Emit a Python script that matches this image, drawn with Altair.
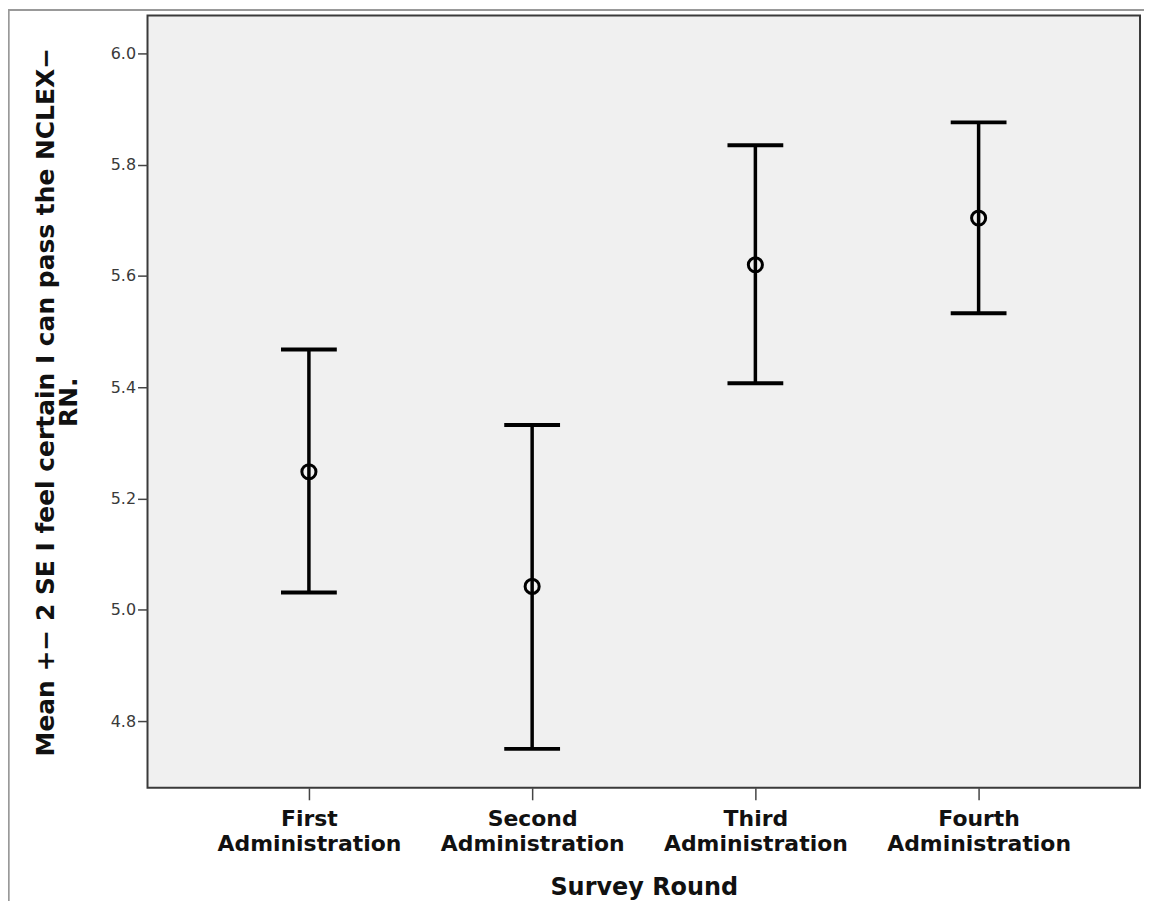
import altair as alt
import pandas as pd

rounds = ["First Administration", "Second Administration", "Third Administration", "Fourth Administration"]
means = [5.248, 5.042, 5.620, 5.704]
lower = [5.031, 4.750, 5.407, 5.533]
upper = [5.468, 5.332, 5.835, 5.876]
y_ticks = [4.8, 5.0, 5.2, 5.4, 5.6, 5.8, 6.0]

df = pd.DataFrame({"round": rounds, "mean": means, "lower": lower, "upper": upper})

FONT = "DejaVu Sans"

x_enc = alt.X(
    "round:N",
    sort=rounds,
    scale=alt.Scale(type="point", padding=0.723),
    axis=alt.Axis(
        title="Survey Round",
        labelExpr="split(datum.label, ' ')",
        labelAngle=0,
        labelLimit=400,
        labelFont=FONT,
        labelFontSize=22,
        labelFontWeight="bold",
        labelLineHeight=25,
        labelColor="#111111",
        labelPadding=9,
        titleFont=FONT,
        titleFontSize=24,
        titleFontWeight="bold",
        titleColor="#111111",
        titlePadding=21,
        tickSize=12,
        tickColor="#444444",
        tickWidth=1.5,
        domain=False,
        grid=False,
    ),
)

y_scale = alt.Scale(domain=[4.68, 6.068], nice=False, zero=False)

base = alt.Chart(df)

bars = base.mark_rule(color="black", strokeWidth=3.5, opacity=1).encode(
    x=x_enc,
    y=alt.Y(
        "lower:Q",
        scale=y_scale,
        axis=alt.Axis(
            title=["Mean +− 2 SE I feel certain I can pass the NCLEX−", "RN."],
            values=y_ticks,
            format=".1f",
            labelFont=FONT,
            labelFontSize=16,
            labelColor="#3a3a3a",
            labelPadding=2,
            titleFont=FONT,
            titleFontSize=25,
            titleFontWeight="bold",
            titleColor="#111111",
            titleLineHeight=23,
            titlePadding=29,
            titleLimit=1000,
            tickSize=10,
            tickColor="#444444",
            tickWidth=1.5,
            domain=False,
            grid=False,
        ),
    ),
    y2="upper:Q",
)

caps_hi = base.mark_tick(color="black", size=56, thickness=4, opacity=1).encode(
    x=alt.X("round:N", sort=rounds), y=alt.Y("upper:Q", scale=y_scale)
)
caps_lo = base.mark_tick(color="black", size=56, thickness=4, opacity=1).encode(
    x=alt.X("round:N", sort=rounds), y=alt.Y("lower:Q", scale=y_scale)
)
pts = base.mark_point(shape="circle", filled=False, color="black", size=200, strokeWidth=3, opacity=1).encode(
    x=alt.X("round:N", sort=rounds), y=alt.Y("mean:Q", scale=y_scale)
)

frame_top = alt.Chart(df).mark_rule(color="#999999", strokeWidth=1.5).encode(
    x=alt.value(-139.5), x2=alt.value(1010), y=alt.value(-5.5)
)
frame_left = alt.Chart(df).mark_rule(color="#999999", strokeWidth=1.5).encode(
    x=alt.value(-139.5), y=alt.value(-6), y2=alt.value(900)
)

chart = (
    alt.layer(bars, caps_hi, caps_lo, pts, frame_top, frame_left)
    .properties(
        width=996,
        height=775,
        background="white",
        autosize=alt.AutoSizeParams(type="none"),
        padding={"left": 140, "top": 6, "right": 4, "bottom": 112},
    )
    .configure_view(fill="#f0f0f0", stroke="#3a3a3a", strokeWidth=2)
)

chart.save("out.html", embed_options={"renderer": "svg", "actions": False})
